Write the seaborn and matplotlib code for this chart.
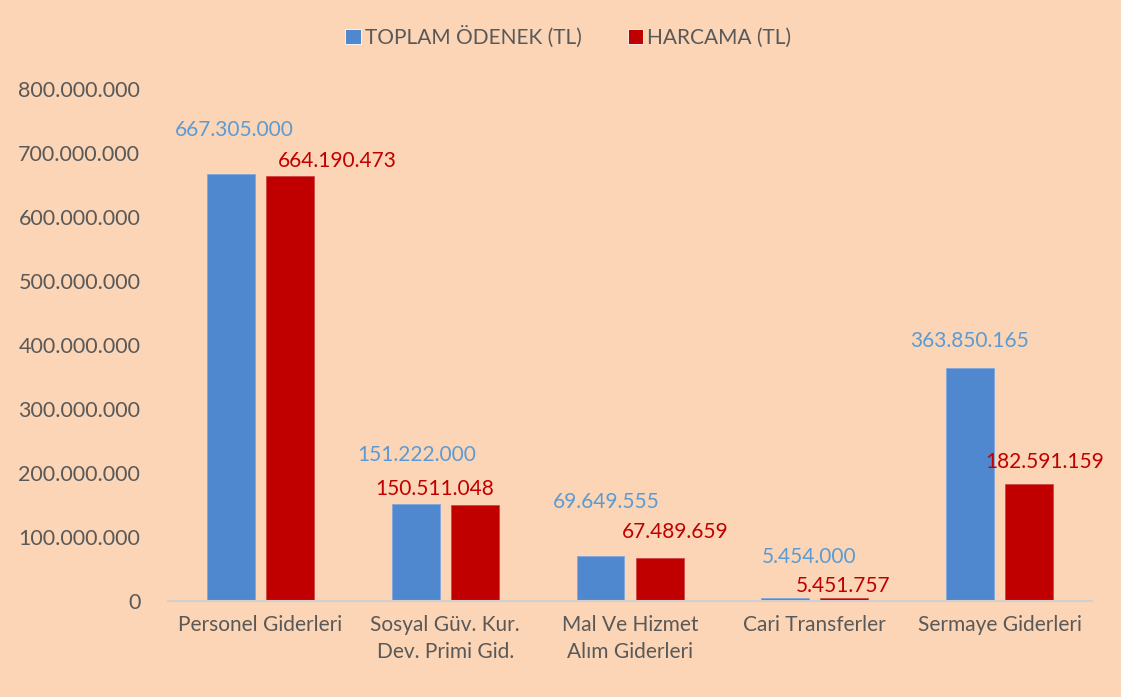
import matplotlib
matplotlib.use("Agg")
import matplotlib.pyplot as plt
import pandas as pd
import seaborn as sns

# data
categories = ["Personel Giderleri", "Sosyal Güv. Kur.\nDev. Primi Gid.",
              "Mal Ve Hizmet\nAlım Giderleri", "Cari Transferler", "Sermaye Giderleri"]
series_names = ["TOPLAM ÖDENEK (TL)", "HARCAMA (TL)"]
toplam_odenek = [667305000, 151222000, 69649555, 5454000, 363850165]
harcama = [664190473, 150511048, 67489659, 5451757, 182591159]
y_ticks = [0, 100000000, 200000000, 300000000, 400000000, 500000000, 600000000, 700000000, 800000000]

# label nudges in pixels (dx, dy) per series, like the moved labels in the original
label_offsets = [
    [(3, 44), (1, 49), (6, 54), (24, 41), (0, 27)],
    [(47, 15), (-40, 16), (16, 26), (-1, 12), (16, 22)],
]

BG = "#FBD5B5"
BAR_COLORS = ["#4F88CF", "#C00000"]
LABEL_COLORS = ["#5B9BD5", "#C00000"]
TEXT = "#595959"


def fmt(v):
    return f"{v:,.0f}".replace(",", ".")


def draw_chart():
    df = pd.DataFrame({
        "kategori": categories * 2,
        "seri": [series_names[0]] * len(categories) + [series_names[1]] * len(categories),
        "deger": toplam_odenek + harcama,
    })

    sns.set_style("white")
    plt.rcParams["font.family"] = ["Lato", "DejaVu Sans"]

    fig = plt.figure(figsize=(11.21, 6.97), dpi=100, facecolor=BG)
    ax = fig.add_axes([0.15, 0.1377, 0.824, 0.7346])
    ax.set_facecolor(BG)

    sns.barplot(data=df, x="kategori", y="deger", hue="seri", palette=BAR_COLORS,
                width=0.64, gap=0.19, saturation=1, ax=ax, linewidth=0.6)

    for i, cont in enumerate(ax.containers):
        for bar, (dx, dy) in zip(cont, label_offsets[i]):
            ax.annotate(fmt(bar.get_height()),
                        xy=(bar.get_x() + bar.get_width() / 2, bar.get_height()),
                        xytext=(dx, dy), textcoords="offset pixels",
                        ha="center", va="center", fontsize=15, color=LABEL_COLORS[i])
        for bar in cont:
            bar.set_edgecolor("#7FA7DA" if i == 0 else "#D24545")

    ax.set_ylim(0, 800000000)
    ax.set_xlim(-0.5, len(categories) - 0.5)
    ax.set_yticks(y_ticks)
    ax.set_yticklabels([fmt(t) for t in y_ticks], fontsize=15.5, color=TEXT)
    ax.tick_params(axis="x", labelsize=15, labelcolor=TEXT, length=0, pad=10)
    ax.tick_params(axis="y", length=0, pad=20)
    for lbl in ax.get_xticklabels():
        lbl.set_linespacing(1.45)
        lbl.set_va("top")
    ax.set_xlabel("")
    ax.set_ylabel("")

    for side in ["top", "right", "left"]:
        ax.spines[side].set_visible(False)
    ax.spines["bottom"].set_color("#D0D0D0")
    ax.spines["bottom"].set_linewidth(1.5)

    handles, labels = ax.get_legend_handles_labels()
    ax.get_legend().remove()
    fig.legend(handles, labels, loc="center", bbox_to_anchor=(0.507, 0.947), ncol=2,
               frameon=False, fontsize=15, labelcolor=TEXT, handlelength=0.75,
               handleheight=0.75, handletextpad=0.2, columnspacing=2.2)

    fig.savefig("out.png", dpi=100, facecolor=BG)


if __name__ == "__main__":
    draw_chart()
